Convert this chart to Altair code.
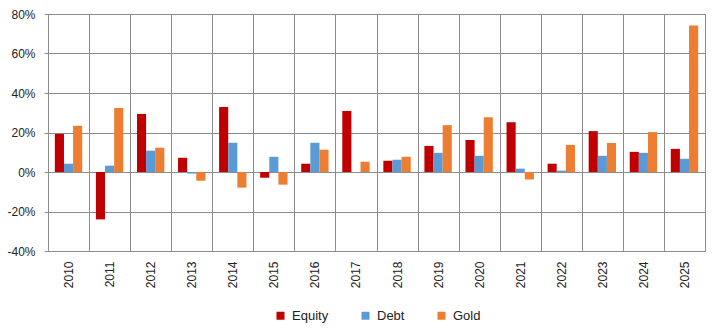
import altair as alt
import pandas as pd

years = ["2010", "2011", "2012", "2013", "2014", "2015", "2016", "2017",
         "2018", "2019", "2020", "2021", "2022", "2023", "2024", "2025"]
equity = [19.3, -24.0, 29.4, 7.2, 32.9, -2.9, 4.2, 30.9, 5.7, 13.2, 16.2, 25.2, 4.2, 20.7, 10.2, 11.7]
debt = [4.2, 3.2, 10.8, -0.8, 14.8, 7.7, 14.8, 0.0, 6.2, 9.7, 8.2, 1.7, 0.7, 8.2, 9.7, 6.7]
gold = [23.4, 32.4, 12.3, -4.4, -7.9, -6.4, 11.3, 5.2, 7.7, 23.7, 27.7, -3.8, 13.7, 14.7, 20.2, 74.2]
series = ["Equity", "Debt", "Gold"]
colors = ["#C00000", "#5B9BD5", "#ED7D31"]
y_ticks = [-40, -20, 0, 20, 40, 60, 80]

rows = []
for name, vals in zip(series, [equity, debt, gold]):
    for yr, v in zip(years, vals):
        rows.append({"Year": yr, "Series": name, "Value": v})
df = pd.DataFrame(rows)

FONT = "Liberation Sans Narrow, Liberation Sans, sans-serif"
GRID = "#8C8C8C"

chart = alt.Chart(df).mark_bar().encode(
    x=alt.X("Year:N", sort=years, title=None,
            scale=alt.Scale(paddingInner=0, paddingOuter=0),
            axis=alt.Axis(labelAngle=-90, grid=True, gridColor=GRID, gridOpacity=1,
                          tickBand="extent", ticks=False, domain=False,
                          labelPadding=10, labelFontSize=12, labelColor="#222",
                          labelFont=FONT)),
    xOffset=alt.XOffset("Series:N", sort=series,
                        scale=alt.Scale(paddingInner=0, paddingOuter=0.75)),
    y=alt.Y("Value:Q", title=None,
            scale=alt.Scale(domain=[-40, 80], nice=False, zero=False),
            axis=alt.Axis(values=y_ticks, labelExpr="datum.value + '%'",
                          grid=True, gridColor=GRID, gridOpacity=1, domain=False,
                          ticks=True, tickSize=4, tickColor=GRID, labelPadding=9,
                          labelFontSize=12, labelColor="#222", labelFont=FONT)),
    color=alt.Color("Series:N", sort=series,
                    scale=alt.Scale(domain=series, range=colors),
                    legend=alt.Legend(title=None, orient="none", direction="horizontal",
                                      legendX=226, legendY=295, symbolType="square",
                                      symbolSize=64, symbolStrokeWidth=0,
                                      labelFontSize=13, labelFont=FONT, labelColor="#222",
                                      columnPadding=30, labelOffset=5)),
).properties(
    width=657, height=237,
    autosize=alt.AutoSizeParams(type="none"),
    padding={"left": 48, "top": 14, "right": 12, "bottom": 77},
).configure_view(stroke=GRID, strokeWidth=1)

chart.save("out.html", embed_options={"renderer": "svg", "actions": False})
